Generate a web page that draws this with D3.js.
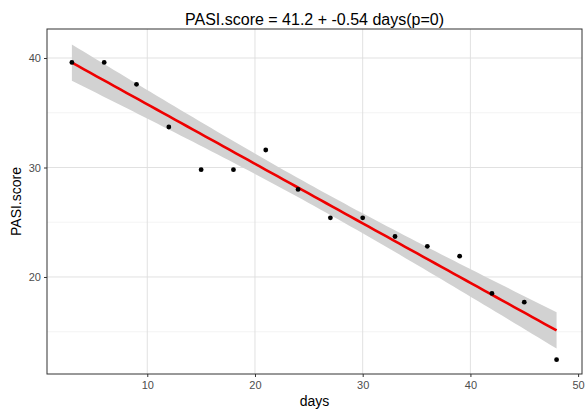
<!DOCTYPE html>
<html><head><meta charset="utf-8">
<script src="https://cdn.jsdelivr.net/npm/d3@7"></script>
<style>body{margin:0;background:#fff}svg{display:block;font-family:"Liberation Sans",Arial,sans-serif}</style>
</head><body><svg id="c" width="585" height="411"></svg>
<script>
const days = [3,6,9,12,15,18,21,24,27,30,33,36,39,42,45,48];
const pasi = [39.6,39.6,37.6,33.7,29.8,29.8,31.6,28.0,25.4,25.4,23.7,22.8,21.9,18.5,17.7,12.45];
const xTicks = [10,20,30,40,50];
const yTicks = [20,30,40];
const xMinor = [];
const yMinor = [15,25,35];
const titleText = "PASI.score = 41.2 + -0.54 days(p=0)";
const xLabel = "days", yLabel = "PASI.score";

const svg = d3.select("#c");
const L=47, R=582, T=29, B=374;
const x = d3.scaleLinear().domain([0.69,50.36]).range([L,R]);
const y = d3.scaleLinear().domain([11.14,42.65]).range([B,T]);

// regression
const n = days.length;
const mx = d3.mean(days), my = d3.mean(pasi);
let sxx=0, sxy=0;
days.forEach((d,i)=>{sxx+=(d-mx)**2; sxy+=(d-mx)*(pasi[i]-my);});
const b = sxy/sxx, a = my - b*mx;
let sse=0; days.forEach((d,i)=>{sse+=(pasi[i]-(a+b*d))**2;});
const s = Math.sqrt(sse/(n-2));
const tq = 2.144787; // t(0.975, df=14)
const grid = d3.range(0,81).map(i=>3+i*45/80);
const band = grid.map(g=>{const f=a+b*g; const se=s*Math.sqrt(1/n+(g-mx)**2/sxx); return {g, lo:f-tq*se, hi:f+tq*se, f};});

const g = svg.append("g");
// grid
g.selectAll(".ym").data(yMinor).join("line").attr("x1",L).attr("x2",R).attr("y1",d=>y(d)).attr("y2",d=>y(d)).attr("stroke","#f0f0f0").attr("stroke-width",0.8);
g.selectAll(".yg").data(yTicks).join("line").attr("x1",L).attr("x2",R).attr("y1",d=>y(d)).attr("y2",d=>y(d)).attr("stroke","#dedede").attr("stroke-width",0.9);
g.selectAll(".xg").data(xTicks.filter(d=>d<50)).join("line").attr("y1",T).attr("y2",B).attr("x1",d=>x(d)).attr("x2",d=>x(d)).attr("stroke","#dedede").attr("stroke-width",0.9);

// ribbon
g.append("path").datum(band).attr("fill","#d2d2d2")
 .attr("d",d3.area().x(d=>x(d.g)).y0(d=>y(d.lo)).y1(d=>y(d.hi)));
// line
g.append("path").datum(band).attr("fill","none").attr("stroke","#ee0000").attr("stroke-width",2.6)
 .attr("d",d3.line().x(d=>x(d.g)).y(d=>y(d.f)));
// points
g.selectAll("circle").data(days).join("circle").attr("cx",d=>x(d)).attr("cy",(d,i)=>y(pasi[i])).attr("r",2.4).attr("fill","#000");

// border
svg.append("rect").attr("x",L).attr("y",T).attr("width",R-L).attr("height",B-T).attr("fill","none").attr("stroke","#333").attr("stroke-width",1);

// axes
const xa = svg.append("g").attr("transform",`translate(0,${B})`).call(d3.axisBottom(x).tickValues(xTicks).tickSize(3).tickSizeOuter(0));
const ya = svg.append("g").attr("transform",`translate(${L},0)`).call(d3.axisLeft(y).tickValues(yTicks).tickSize(3).tickSizeOuter(0));
[xa,ya].forEach(ax=>{ax.select(".domain").remove(); ax.selectAll("line").attr("stroke","#333");
 ax.selectAll("text").attr("fill","#4d4d4d").style("font-size","11px").style("font-family","Liberation Sans, Arial, sans-serif");});
xa.selectAll("text").attr("dy","0.71em").attr("y",7);
ya.selectAll("text").attr("x",-6);

svg.append("text").attr("x",(L+R)/2).attr("y",25).attr("text-anchor","middle").style("font-size","16px").attr("fill","#000").text(titleText);
svg.append("text").attr("x",(L+R)/2).attr("y",406).attr("text-anchor","middle").style("font-size","14px").text(xLabel);
svg.append("text").attr("transform",`translate(21,${(T+B)/2}) rotate(-90)`).attr("text-anchor","middle").style("font-size","14px").text(yLabel);
</script></body></html>
